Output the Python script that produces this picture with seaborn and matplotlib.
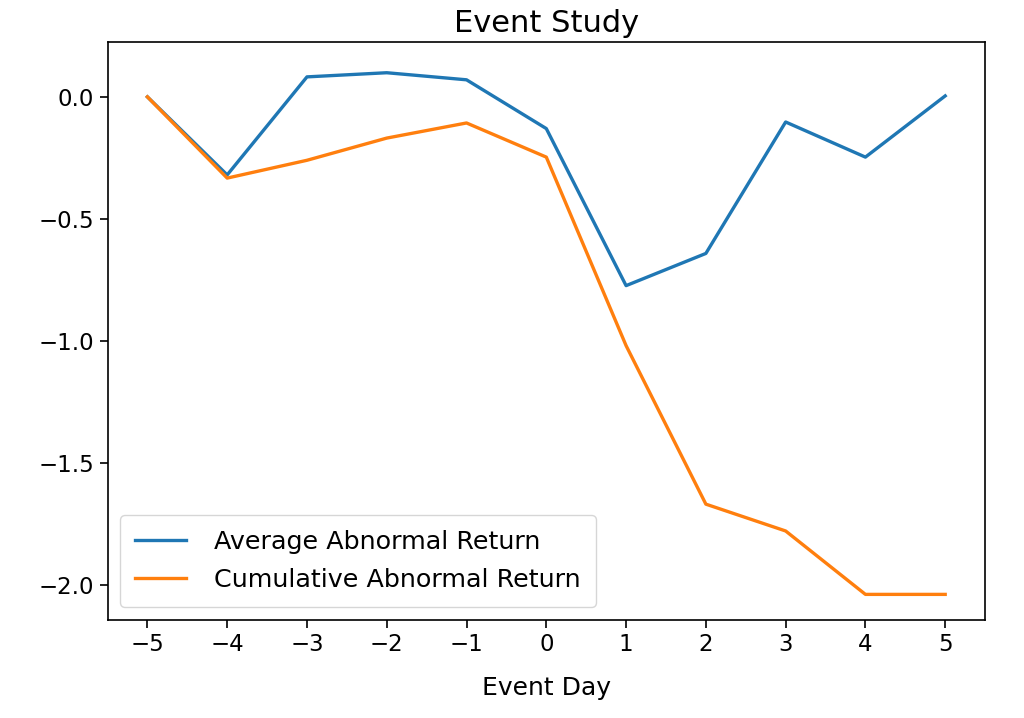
import numpy as np
import pandas as pd
import seaborn as sns
import matplotlib
matplotlib.use("Agg")
import matplotlib.pyplot as plt

# Event window days
event_days = [-5, -4, -3, -2, -1, 0, 1, 2, 3, 4, 5]

# Values
aar = [0.0, -0.32, 0.082, 0.099, 0.07, -0.13, -0.774, -0.642, -0.103, -0.247, 0.004]
car = [0.0, -0.333, -0.26, -0.169, -0.107, -0.247, -1.02, -1.67, -1.78, -2.04, -2.04]

df = pd.DataFrame({
    "Event Day": event_days * 2,
    "Return": aar + car,
    "Series": ["Average Abnormal Return"] * len(aar) + ["Cumulative Abnormal Return"] * len(car),
})

plt.rcParams['font.family'] = ['DejaVu Sans']

fig = plt.figure(figsize=(10.24, 7.18), dpi=100)
ax = fig.add_axes([0.105, 0.1365, 0.857, 0.805])

sns.lineplot(data=df, x="Event Day", y="Return", hue="Series",
             palette=["#1f77b4", "#ff7f0e"], linewidth=2.4, ax=ax)

ax.set_xticks(event_days)
ax.set_yticks([0.0, -0.5, -1.0, -1.5, -2.0])
ax.set_xlim(-5.5, 5.5)
ax.set_ylim(-2.145, 0.225)
ax.tick_params(labelsize=16.5, length=6, width=1.2)
for s in ax.spines.values():
    s.set_linewidth(1.2)

ax.set_title("Event Study", fontsize=22, pad=7)
ax.set_xlabel("Event Day", fontsize=18, labelpad=14)
ax.set_ylabel("")
ax.legend(loc="lower left", fontsize=18.3, handlelength=2.0, borderpad=0.6,
          labelspacing=0.55, handletextpad=1.1)

fig.savefig("out.png", dpi=100)
